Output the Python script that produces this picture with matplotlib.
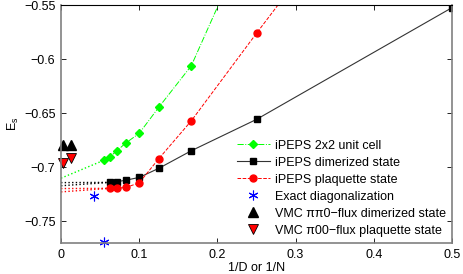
import matplotlib
matplotlib.use("Agg")
import matplotlib.pyplot as plt
from matplotlib.lines import Line2D

plt.rcParams['font.family'] = ['Liberation Sans', 'DejaVu Sans']

# iPEPS 2x2 unit cell
x_22 = [1/18, 1/16, 1/14, 1/12, 1/10, 1/8, 1/6, 1/4]
y_22 = [-0.6932, -0.6902, -0.6846, -0.6772, -0.6685, -0.6444, -0.6059, -0.4705]
# iPEPS dimerized
x_dim = [1/16, 1/14, 1/12, 1/10, 1/8, 1/6, 1/4, 1/2]
y_dim = [-0.7139, -0.7133, -0.7118, -0.7093, -0.7009, -0.6846, -0.6556, -0.5522]
# iPEPS plaquette
x_plq = [1/16, 1/14, 1/12, 1/10, 1/8, 1/6, 1/4, 1/2]
y_plq = [-0.7194, -0.7194, -0.7185, -0.7143, -0.6920, -0.6569, -0.5759, -0.338]
# extrapolations
x_ext22 = [0, 1/18]
y_ext22 = [-0.7100, -0.6932]
x_extdim = [0, 1/16]
y_extdim_a = [-0.7141, -0.7139]
y_extdim_b = [-0.7170, -0.7139]
x_extplq = [0, 1/16]
y_extplq_a = [-0.7196, -0.7194]
y_extplq_b = [-0.7227, -0.7194]
# ED
x_ed = [1/24, 1/18]
y_ed = [-0.7266, -0.7689]
# VMC
x_vmc = [0.003, 0.0128]
y_vmc_dim = [-0.6795, -0.6795]
y_vmc_plq = [-0.6963, -0.6917]

xticks = [0, 0.1, 0.2, 0.3, 0.4, 0.5]
xticklabels = ['0', '0.1', '0.2', '0.3', '0.4', '0.5']
yticks = [-0.75, -0.7, -0.65, -0.6, -0.55]
yticklabels = ['\u22120.75', '\u22120.7', '\u22120.65', '\u22120.6', '\u22120.55']

fig = plt.figure(figsize=(4.63, 2.74), dpi=100)
ax = fig.add_axes([0.1318, 0.1131, 0.9762 - 0.1318, 0.9807 - 0.1131])

green = '#00ff00'
ax.plot(x_ext22, y_ext22, ':', color=green, lw=1.0)
ax.plot(x_extdim, y_extdim_a, ':', color='black', lw=1.0)
ax.plot(x_extdim, y_extdim_b, ':', color='black', lw=1.0)
ax.plot(x_extplq, y_extplq_a, ':', color='red', lw=1.0)
ax.plot(x_extplq, y_extplq_b, ':', color='red', lw=1.0)

ax.plot(x_22, y_22, '-.', color=green, lw=0.7, marker='D', ms=4.3, mec=green, mfc=green)
ax.plot(x_dim, y_dim, '-', color='#333333', lw=0.8, marker='s', ms=4, mec='black', mfc='black')
ax.plot(x_plq, y_plq, '--', color='red', lw=0.7, marker='o', ms=5, mec='red', mfc='red')
ax.plot(x_ed, y_ed, ls='none', marker=(6, 2, 0), ms=7, mec='blue', mew=0.8, clip_on=False)
ax.plot(x_vmc, y_vmc_dim, ls='none', marker='^', ms=6.5, mec='black', mfc='black', clip_on=False)
ax.plot(x_vmc, y_vmc_plq, ls='none', marker='v', ms=6.5, mec='black', mfc='red', mew=0.6, clip_on=False)

ax.set_xlim(0, 0.5)
ax.set_ylim(-0.77, -0.55)
ax.set_xticks(xticks)
ax.set_xticklabels(xticklabels)
ax.set_yticks(yticks)
ax.set_yticklabels(yticklabels)
ax.tick_params(direction='in', length=3.5, width=0.6, labelsize=9, top=True, right=True, pad=4)
for s in ['left', 'right', 'bottom']:
    ax.spines[s].set_color('#808080')
    ax.spines[s].set_linewidth(1.2)
ax.spines['top'].set_color('black')
ax.spines['top'].set_linewidth(0.8)

ax.set_xlabel('1/D or 1/N', fontsize=9, labelpad=1)
ax.set_ylabel('E$_\\mathregular{s}$', fontsize=9, labelpad=2)

handles = [
    Line2D([], [], ls='-.', color=green, lw=0.7, marker='D', ms=4.3, mec=green, mfc=green),
    Line2D([], [], ls='-', color='#333333', lw=0.8, marker='s', ms=4, mec='black', mfc='black'),
    Line2D([], [], ls='--', color='red', lw=0.7, marker='o', ms=5, mec='red', mfc='red'),
    Line2D([], [], ls='none', marker=(6, 2, 0), ms=7, mec='blue', mew=0.8),
    Line2D([], [], ls='none', marker='^', ms=6.5, mec='black', mfc='black'),
    Line2D([], [], ls='none', marker='v', ms=6.5, mec='black', mfc='red', mew=0.6),
]
labels = ['iPEPS 2x2 unit cell', 'iPEPS dimerized state', 'iPEPS plaquette state',
          'Exact diagonalization', 'VMC \u03c0\u03c00\u2212flux dimerized state',
          'VMC \u03c000\u2212flux plaquette state']
leg = ax.legend(handles, labels, loc='lower right', bbox_to_anchor=(1.008, -0.01),
                frameon=False, fontsize=9, handlelength=2.7, handletextpad=0.4,
                labelspacing=0.4, borderaxespad=0.3)

fig.savefig('out.png', dpi=100)
